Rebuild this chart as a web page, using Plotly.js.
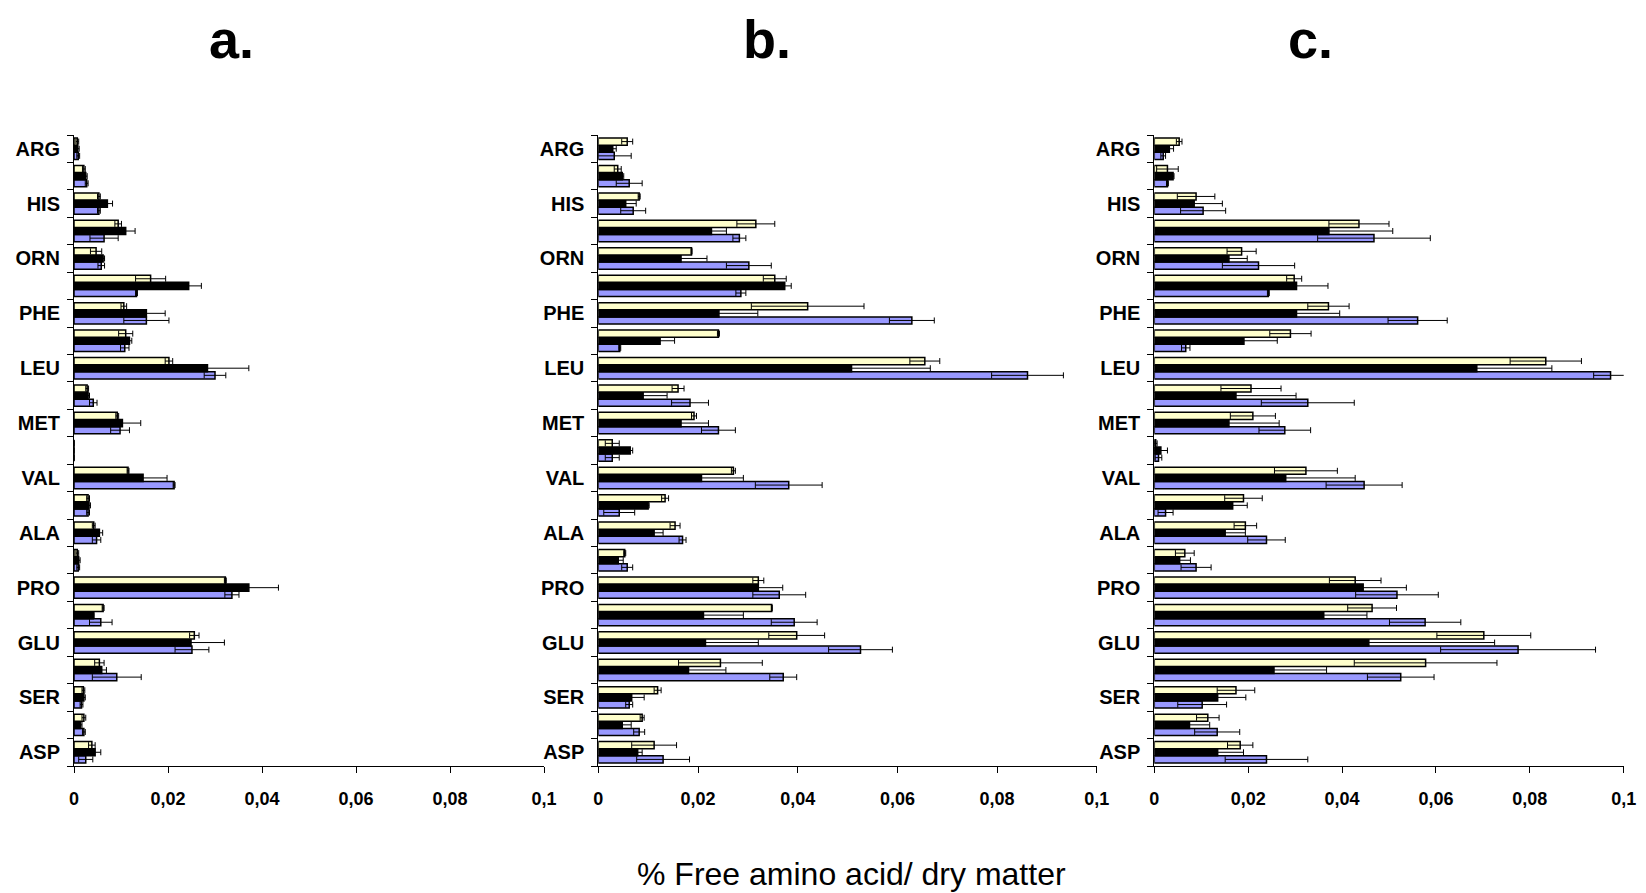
<!DOCTYPE html>
<html>
<head>
<meta charset="utf-8">
<script src="https://cdn.plot.ly/plotly-3.0.1.min.js"></script>
<style>
  html, body { margin: 0; padding: 0; background: #fff; }
  #chart { width: 1646px; height: 893px; }
</style>
</head>
<body>
<div id="chart"></div>
<script>
// Categories from bottom (index 0) to top (index 22); unlabeled rows are blank.
const categories = ['ASP','','SER','','GLU','','PRO','','ALA','','VAL','','MET','','LEU','','PHE','','ORN','','HIS','','ARG'];
const xTickVals = [0, 0.02, 0.04, 0.06, 0.08, 0.1];
const xTickText = ['0', '0,02', '0,04', '0,06', '0,08', '0,1'];
const panelTitles = ['a.', 'b.', 'c.'];
const xAxisTitle = '% Free amino acid/ dry matter';

// Panel a
const aCream    = [0.0038,0.0021,0.0020,0.0054,0.0256,0.0062,0.0322,0.0007,0.0042,0.0030,0.0115,0,0.0092,0.0028,0.0202,0.0110,0.0106,0.0163,0.0047,0.0094,0.0053,0.0021,0.0007];
const aCreamErr = [0.0007,0.0004,0.0003,0.0010,0.0010,0.0002,0.0002,0.0003,0.0003,0.0003,0.0002,0,0.0003,0.0003,0.0008,0.0015,0.0006,0.0032,0.0012,0.0007,0.0003,0.0003,0.0003];
const aBlack    = [0.0045,0.0014,0.0021,0.0059,0.0249,0.0041,0.0372,0.0010,0.0054,0.0032,0.0147,0,0.0103,0.0030,0.0284,0.0118,0.0154,0.0244,0.0062,0.0110,0.0071,0.0025,0.0008];
const aBlackErr = [0.0012,0.0003,0.0003,0.0010,0.0071,0.0002,0.0063,0.0003,0.0007,0.0003,0.0051,0,0.0039,0.0003,0.0088,0.0005,0.0040,0.0027,0.0003,0.0020,0.0011,0.0003,0.0003];
const aBlue     = [0.0025,0.0021,0.0016,0.0091,0.0251,0.0057,0.0336,0.0009,0.0048,0.0030,0.0213,0,0.0098,0.0041,0.0300,0.0108,0.0154,0.0133,0.0058,0.0064,0.0053,0.0027,0.0009];
const aBlueErr  = [0.0015,0.0003,0.0003,0.0052,0.0036,0.0024,0.0015,0.0003,0.0009,0.0003,0.0002,0,0.0020,0.0008,0.0023,0.0009,0.0048,0.0002,0.0007,0.0030,0.0003,0.0003,0.0003];

// Panel b
const bCream    = [0.0112,0.0088,0.0119,0.0245,0.0398,0.0348,0.0321,0.0053,0.0154,0.0134,0.0271,0.0028,0.0192,0.0160,0.0655,0.0241,0.0420,0.0354,0.0187,0.0316,0.0082,0.0039,0.0058];
const bCreamErr = [0.0045,0.0004,0.0007,0.0084,0.0056,0.0001,0.0011,0.0002,0.0010,0.0007,0.0004,0.0014,0.0005,0.0012,0.0030,0.0002,0.0113,0.0023,0.0001,0.0038,0.0002,0.0007,0.0011];
const bBlack    = [0.0079,0.0048,0.0067,0.0181,0.0215,0.0211,0.0321,0.0040,0.0112,0.0100,0.0207,0.0064,0.0166,0.0090,0.0508,0.0124,0.0242,0.0374,0.0166,0.0227,0.0055,0.0048,0.0029];
const bBlackErr = [0.0009,0.0018,0.0025,0.0075,0.0106,0.0080,0.0049,0.0010,0.0018,0.0002,0.0084,0.0005,0.0055,0.0048,0.0158,0.0029,0.0078,0.0013,0.0052,0.0030,0.0021,0.0003,0.0007];
const bBlue     = [0.0130,0.0082,0.0062,0.0371,0.0526,0.0393,0.0363,0.0058,0.0169,0.0042,0.0382,0.0028,0.0241,0.0184,0.0861,0.0043,0.0629,0.0286,0.0302,0.0283,0.0070,0.0062,0.0032];
const bBlueErr  = [0.0053,0.0011,0.0007,0.0027,0.0064,0.0046,0.0053,0.0011,0.0007,0.0031,0.0067,0.0014,0.0034,0.0037,0.0072,0.0002,0.0045,0.0010,0.0045,0.0013,0.0025,0.0026,0.0034];

// Panel c
const cCream    = [0.0183,0.0114,0.0174,0.0578,0.0702,0.0464,0.0428,0.0065,0.0194,0.0190,0.0323,0.0003,0.0210,0.0206,0.0834,0.0290,0.0371,0.0298,0.0186,0.0436,0.0089,0.0028,0.0053];
const cCreamErr = [0.0027,0.0024,0.0040,0.0152,0.0100,0.0052,0.0055,0.0020,0.0024,0.0040,0.0067,0.0003,0.0048,0.0064,0.0076,0.0044,0.0044,0.0016,0.0031,0.0064,0.0040,0.0023,0.0006];
const cBlack    = [0.0135,0.0075,0.0135,0.0255,0.0457,0.0361,0.0445,0.0054,0.0151,0.0167,0.0280,0.0014,0.0159,0.0174,0.0687,0.0191,0.0303,0.0303,0.0159,0.0372,0.0085,0.0040,0.0032];
const cBlackErr = [0.0055,0.0043,0.0060,0.0112,0.0268,0.0092,0.0092,0.0023,0.0043,0.0031,0.0148,0.0014,0.0107,0.0128,0.0160,0.0071,0.0092,0.0067,0.0039,0.0136,0.0060,0.0002,0.0009];
const cBlue     = [0.0239,0.0134,0.0102,0.0525,0.0775,0.0577,0.0517,0.0089,0.0239,0.0024,0.0447,0.0009,0.0278,0.0327,0.0972,0.0067,0.0561,0.0243,0.0222,0.0468,0.0104,0.0028,0.0019];
const cBlueErr  = [0.0088,0.0048,0.0052,0.0071,0.0165,0.0076,0.0088,0.0032,0.0040,0.0016,0.0081,0.0007,0.0055,0.0099,0.0036,0.0009,0.0063,0.0002,0.0077,0.0120,0.0048,0.0002,0.0005];

const panels = [
  [[aBlue, aBlueErr], [aBlack, aBlackErr], [aCream, aCreamErr]],
  [[bBlue, bBlueErr], [bBlack, bBlackErr], [bCream, bCreamErr]],
  [[cBlue, cBlueErr], [cBlack, cBlackErr], [cCream, cCreamErr]]
];
const fills = ['#9999FF', '#000000', '#FFFFCC'];

const W = 1646, H = 893;
const xPix = [[74, 544], [598.3, 1096.8], [1154.3, 1623.7]];
const yTop = 135, yBot = 766;
const titleX = [231, 767, 1310];

const yIdx = categories.map((_, i) => i);
const data = [];
panels.forEach((series, k) => {
  const sfx = k === 0 ? '' : String(k + 1);
  series.forEach((s, j) => {
    data.push({
      type: 'bar', orientation: 'h',
      x: s[0], y: yIdx,
      xaxis: 'x' + sfx, yaxis: 'y' + sfx,
      marker: {color: fills[j], line: {color: '#000', width: 1.5}},
      error_x: {type: 'data', array: s[1], visible: true, color: '#000', thickness: 1, width: 3},
      showlegend: false, hoverinfo: 'x'
    });
  });
});

const layout = {
  width: W, height: H,
  margin: {l: 0, r: 0, t: 0, b: 0},
  paper_bgcolor: '#fff', plot_bgcolor: 'rgba(0,0,0,0)',
  barmode: 'group', bargap: 0.22, bargroupgap: 0,
  font: {family: 'Liberation Sans, Arial, sans-serif', color: '#000'},
  annotations: [],
  showlegend: false
};
const bounds = categories.map((_, i) => i - 0.5).concat([categories.length - 0.5]);
for (let k = 0; k < 3; k++) {
  const sfx = k === 0 ? '' : String(k + 1);
  layout['xaxis' + sfx] = {
    domain: [xPix[k][0] / W, xPix[k][1] / W],
    range: [0, 0.1], anchor: 'y' + sfx,
    tickmode: 'array', tickvals: xTickVals, ticktext: xTickText,
    ticks: 'outside', ticklen: 6, tickcolor: '#000', tickwidth: 1,
    showline: true, linecolor: '#000', linewidth: 1,
    showgrid: false, zeroline: false,
    tickfont: {size: 18, family: 'Liberation Sans, Arial, sans-serif', weight: 'bold', color: '#000'},
    ticklabelstandoff: 10
  };
  layout['yaxis' + sfx] = {
    domain: [1 - yBot / H, 1 - yTop / H],
    range: [-0.5, categories.length - 0.5], anchor: 'x' + sfx,
    tickmode: 'array', tickvals: yIdx, ticktext: categories,
    ticks: '',
    minor: {tickmode: 'array', tickvals: bounds, ticks: 'outside', ticklen: 6, tickcolor: '#000', tickwidth: 1, showgrid: false},
    showline: true, linecolor: '#000', linewidth: 1,
    showgrid: false, zeroline: false,
    tickfont: {size: 20, family: 'Liberation Sans, Arial, sans-serif', weight: 'bold', color: '#000'},
    ticklabelstandoff: 9
  };
  layout.annotations.push({
    text: panelTitles[k], xref: 'paper', yref: 'paper',
    x: titleX[k] / W, y: 1 - 39 / H, xanchor: 'center', yanchor: 'middle',
    showarrow: false,
    font: {size: 54, family: 'Liberation Sans, Arial, sans-serif', weight: 'bold', color: '#000'}
  });
}
layout.annotations.push({
  text: xAxisTitle, xref: 'paper', yref: 'paper',
  x: 851 / W, y: 1 - 874 / H, xanchor: 'center', yanchor: 'middle',
  showarrow: false,
  font: {size: 32, family: 'Liberation Sans, Arial, sans-serif', color: '#000'}
});

Plotly.newPlot('chart', data, layout, {displayModeBar: false, staticPlot: true});
</script>
</body>
</html>
